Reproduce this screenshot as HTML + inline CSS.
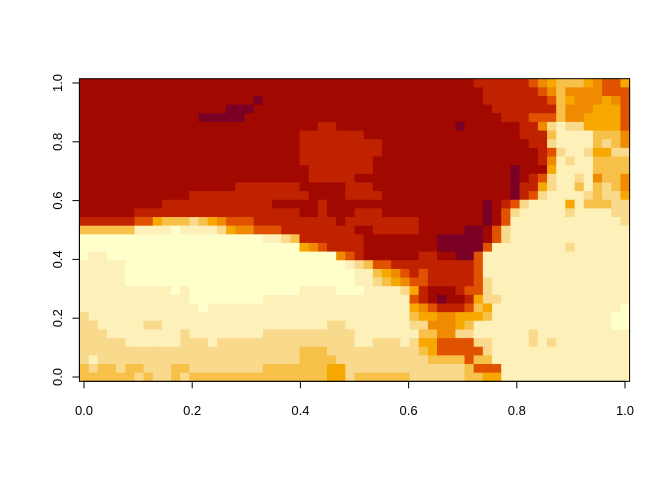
<!DOCTYPE html>
<html><head><meta charset="utf-8"><style>
body{margin:0;background:#fff;}
svg text{font-family:"Liberation Sans",sans-serif;font-size:13px;fill:#000;}
</style></head><body>
<svg id="chart" width="672" height="480" xmlns="http://www.w3.org/2000/svg">
<g id="cells"></g>
<g id="axes"></g>
</svg>
<script>
const R = (c, n) => c.repeat(n);
// level codes per cell, row 0 = top (y=1), column 0 = left (x=0)
const gridRows = [
R("1",43)+"222222"+"34566654335",
R("1",44)+R("2",6)+"346"+"4444"+"333",
R("1",19)+"0"+R("1",24)+R("2",7)+"36"+"5"+"444"+"543",
R("1",16)+"000"+R("1",26)+R("2",6)+"26"+"444"+"555"+"3",
R("1",13)+"00000"+R("1",28)+"222"+"333"+"6"+"44"+"5555"+"3",
R("1",26)+"22"+R("1",13)+"0"+R("1",6)+"22"+"4787755553",
R("1",24)+R("2",7)+R("1",17)+"222"+"6"+"8888"+"666"+"4",
R("1",24)+R("2",9)+R("1",16)+"22"+"7"+"8888"+"6764",
R("1",24)+R("2",9)+R("1",17)+"2"+"3"+"7"+"88"+"7"+"55"+"77",
R("1",24)+R("2",8)+R("1",18)+"2"+"4"+"8"+"7"+"88"+"6666",
R("1",25)+R("2",7)+R("1",15)+"0"+"111"+"5"+"8888"+"6666",
R("1",25)+R("2",5)+R("1",17)+"0"+"1"+"2"+"3"+"7"+"88"+"7"+"8"+"4"+"66"+"4",
R("1",17)+R("2",7)+R("1",5)+R("2",3)+R("1",15)+"0"+"22"+"5"+"7"+"88"+"6"+"8"+"6764",
R("1",12)+R("2",13)+R("1",4)+R("2",4)+R("1",14)+"0"+"2"+"3"+"7"+"8888"+"7"+"6"+"7"+"7"+"5",
R("1",9)+R("2",12)+R("1",5)+"2"+R("1",10)+R("1",7)+"0"+"1"+"2"+"3"+"7"+"8888"+"5"+"8"+"666"+"77",
R("1",6)+R("2",18)+"11"+"2"+"111"+"222"+"1111"+R("1",7)+"0"+"1"+"3"+"7"+R("8",5)+"7"+R("8",4)+"77",
R("2",6)+"3356667654333"+R("2",9)+"1"+R("2",8)+R("1",7)+"0"+"1"+"3"+R("8",12)+"7",
R("6",6)+"88889888"+"8"+"7"+"5"+"44"+"333"+R("2",6)+"22"+"11"+R("2",5)+R("1",5)+"00"+"1"+"3"+"7"+R("8",13),
R("9",20)+"887"+"6"+R("2",7)+R("1",6)+"11"+"00000"+"1"+"3"+"7"+R("8",13),
R("9",24)+"543"+R("2",4)+R("1",6)+"11"+"0000"+"03"+"888888887888888",
"988"+R("9",25)+"4"+"3"+"2"+R("1",6)+"22"+"1100"+"3"+R("8",16),
R("8",5)+R("9",24)+"8"+"7"+"6"+"33"+"222"+"222222"+"3"+R("8",16),
R("8",5)+R("9",25)+"88"+"6543"+"2"+"322222"+"3"+R("8",16),
R("8",5)+R("9",25)+"88"+"76543"+"322222"+"3"+"7888888888888888",
R("8",10)+"98"+R("9",12)+"8888"+"999"+"8888"+"7"+"5"+"211123"+"3"+"7888888888888888",
R("8",12)+R("9",8)+R("8",16)+"3"+"210112"+"5"+"7788888888888888",
R("8",13)+"9"+R("8",22)+"5"+"432223"+"65"+"888888888888889",
"7"+R("8",35)+"6"+"5"+"54455"+"56"+"888888888888899",
"77"+"88888"+"77"+R("8",18)+"77"+R("8",7)+"7"+"7"+"44456"+"88"+"888888888888899",
"777"+R("8",8)+"7"+R("8",8)+R("7",10)+R("8",7)+"6"+"64477"+"88888878888888888",
R("7",5)+R("8",6)+R("7",3)+"8"+R("7",15)+"88"+"777"+"8"+"7"+"5"+"53333"+"77888878788888888",
R("7",24)+"666"+R("7",10)+"6"+"53333"+"37"+R("8",15),
"7"+"8"+R("7",21)+"7"+"6666"+R("7",9)+"7"+"66663"+"66"+R("8",15),
"6"+"7"+"66"+"7"+"66"+"777"+"66"+R("7",8)+R("6",7)+"55"+R("7",8)+"7"+"77776"+"333"+R("8",14),
R("6",6)+"7"+"6"+"77"+"6"+"7"+R("6",8)+R("6",7)+"55"+"7"+R("6",6)+"7"+"7"+"77776"+"655"+R("8",14)
];
const levelColors = ["#7a0026","#a10800","#c02200","#e05200","#f08a00","#f6a800","#f7c048","#f9d98c","#fdf0b8","#ffffcc"];
const xTicks = [0,0.2,0.4,0.6,0.8,1.0];
const yTicks = [0,0.2,0.4,0.6,0.8,1.0];
const xTickLabels = ["0.0","0.2","0.4","0.6","0.8","1.0"];
const yTickLabels = ["0.0","0.2","0.4","0.6","0.8","1.0"];

const NS="http://www.w3.org/2000/svg";
const xs = v => 84 + v*541;
const ys = v => 377 - v*294;
const nCols = 60, nRows = gridRows.length;
const dx = 1/(nCols-1), dy = 1/(nRows-1);
const cells = document.getElementById('cells');
for (let r=0;r<nRows;r++){
  const row = gridRows[r].padEnd(nCols,"8");
  const yv = 1 - r*dy;
  for (let c=0;c<nCols;c++){
    const xv = c*dx;
    const el = document.createElementNS(NS,'rect');
    const x0 = xs(xv-dx/2), x1 = xs(xv+dx/2), y0 = ys(yv+dy/2), y1 = ys(yv-dy/2);
    el.setAttribute('x',x0.toFixed(2)); el.setAttribute('y',y0.toFixed(2));
    el.setAttribute('width',(x1-x0+0.6).toFixed(2)); el.setAttribute('height',(y1-y0+0.6).toFixed(2));
    el.setAttribute('fill',levelColors[+row[c]]);
    
    
    cells.appendChild(el);
  }
}
const axes = document.getElementById('axes');
function add(tag, attrs, text){
  const e=document.createElementNS(NS,tag);
  for(const k in attrs) e.setAttribute(k,attrs[k]);
  if(text!==undefined) e.textContent=text;
  axes.appendChild(e); return e;
}
const pLeft=xs(-dx/2), pRight=xs(1+dx/2), pTop=ys(1+dy/2), pBottom=ys(-dy/2);
const box = add('rect',{x:pLeft,y:pTop,width:pRight-pLeft,height:pBottom-pTop,fill:'none',stroke:'#000','stroke-width':1});


const xl = add('line',{x1:xs(0),x2:xs(1),y1:pBottom,y2:pBottom,stroke:'#000'});


const yl = add('line',{x1:pLeft,x2:pLeft,y1:ys(0),y2:ys(1),stroke:'#000'});


xTicks.forEach((t,i)=>{
  const tk = add('line',{x1:xs(t),x2:xs(t),y1:pBottom,y2:pBottom+7,stroke:'#000'});
  
  
  const lb = add('text',{x:xs(t),y:415,'text-anchor':'middle'},xTickLabels[i]);
  
  
});
yTicks.forEach((t,i)=>{
  const tk = add('line',{x1:pLeft-7,x2:pLeft,y1:ys(t),y2:ys(t),stroke:'#000'});
  
  
  const lb = add('text',{x:0,y:0,'text-anchor':'middle',transform:`translate(62,${ys(t)}) rotate(-90)`},yTickLabels[i]);
  
  
});
</script>
</body></html>
